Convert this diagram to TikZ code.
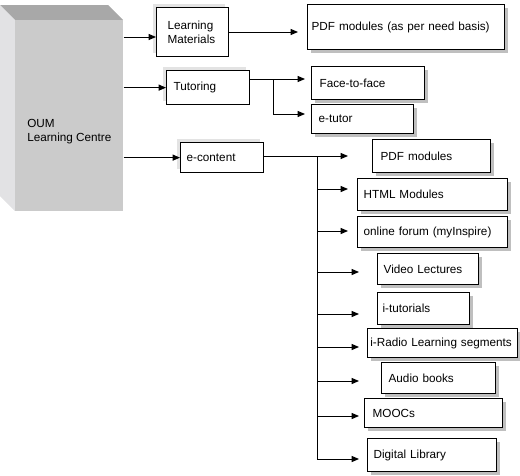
\documentclass[tikz,border=0pt]{standalone}
\usepackage{fontspec}
\setmainfont{Liberation Sans}
\usetikzlibrary{arrows.meta,shadows}
\definecolor{frontgray}{RGB}{203,203,203}
\definecolor{topgray}{RGB}{168,168,168}
\definecolor{sidegray}{RGB}{226,226,228}
\tikzset{
  boxbase/.style={draw, line width=0.95pt, fill=white, align=left, inner ysep=0pt,
    anchor=north west, font=\fontsize{8.8}{10.5}\selectfont},
  lbox/.style={boxbase, drop shadow={shadow xshift=-3pt, shadow yshift=3pt, fill=gray!22, opacity=1}},
  rbox/.style={boxbase, drop shadow={shadow xshift=2.2pt, shadow yshift=-2.2pt, fill=gray!50, opacity=1}},
  arr/.style={line width=0.75pt, -{Triangle[length=5.5pt,width=4.5pt]}},
  plain/.style={line width=0.75pt}
}
\begin{document}
\begin{tikzpicture}[x=0.75pt,y=-0.75pt]
\useasboundingbox (0,0) rectangle (520,475);
% 3D block
\fill[topgray] (0,5) -- (108,5) -- (123,20) -- (15,20) -- cycle;
\fill[sidegray] (0,5) -- (15,20) -- (15,211) -- (0,196) -- cycle;
\node[fill=frontgray, inner sep=0pt, anchor=north west, minimum width=81pt, minimum height=143.25pt] (oum) at (15,20) {};
\node[align=left, anchor=west, inner sep=0pt, font=\fontsize{8.8}{10.5}\selectfont] (oumtext) at (27,132) {OUM\\Learning Centre};
% first level
\node[lbox, text width=37.5pt, inner xsep=8.25pt, minimum height=36.75pt] (lm) at (156,7) {Learning\\Materials};
\node[lbox, text width=51.75pt, inner xsep=5.25pt, minimum height=25.5pt] (tut) at (166,70) {Tutoring};
\node[lbox, text width=53.25pt, inner xsep=4.5pt, minimum height=22.5pt] (ec) at (180,142) {e-content};
% second level
\node[rbox, text width=141.75pt, inner xsep=3pt, minimum height=33.75pt] (pdfneed) at (307,4) {PDF modules (as per need basis)};
\node[rbox, text width=72.75pt, inner xsep=6pt, minimum height=24.75pt] (f2f) at (311,66) {Face-to-face};
\node[rbox, text width=66pt, inner xsep=5.25pt, minimum height=21.75pt] (etutor) at (311,104) {e-tutor};
\node[rbox, text width=76.5pt, inner xsep=6pt, minimum height=24.75pt] (pdfm) at (372,139) {PDF modules};
\node[rbox, text width=103.5pt, inner xsep=4.5pt, minimum height=24pt] (html) at (357,178) {HTML Modules};
\node[rbox, text width=103.5pt, inner xsep=4.5pt, minimum height=23.25pt] (forum) at (357,216) {online forum (myInspire)};
\node[rbox, text width=66.75pt, inner xsep=4.5pt, minimum height=23.25pt] (video) at (377,253) {Video Lectures};
\node[rbox, text width=61.5pt, inner xsep=3.75pt, minimum height=24pt] (itut) at (377,292) {i-tutorials};
\node[rbox, text width=108.5pt, inner xsep=2pt, minimum height=21.75pt] (iradio) at (367,328) {i-Radio Learning segments};
\node[rbox, text width=75pt, inner xsep=5.25pt, minimum height=23.25pt] (audio) at (381,362) {Audio books};
\node[rbox, text width=91.5pt, inner xsep=6pt, minimum height=21.75pt] (moocs) at (364,398) {MOOCs};
\node[rbox, text width=87.75pt, inner xsep=4.5pt, minimum height=24.75pt] (digital) at (367,438) {Digital Library};
% helper coordinates
\coordinate (y1) at (0,37);
\coordinate (t0) at (298,32);
\coordinate (t1) at (305,79);
\coordinate (t2) at (305,114);
\coordinate (tb) at (273,0);
\coordinate (bus) at (317,0);
\coordinate (e1) at (348,156);
\coordinate (e2) at (348,189);
\coordinate (e3) at (348,231);
\coordinate (e4) at (359,272);
\coordinate (e5) at (359,314);
\coordinate (e6) at (359,347);
\coordinate (e7) at (359,381);
\coordinate (e8) at (359,416);
\coordinate (e9) at (359,459);
% connectors
\draw[arr] (oum.east |- y1) -- (lm.west |- y1);
\draw[arr] (oum.east |- tut.west) -- (tut.west);
\draw[arr] (oum.east |- ec.west) -- (ec.west);
\draw[arr] (lm.east |- t0) -- (t0);
\draw[arr] (tut.east |- t1) -- (t1);
\draw[arr] (tb |- t1) |- (t2);
\draw[plain] (ec.east |- e1) -- (bus |- e1);
\draw[plain] (bus |- e1) -- (bus |- e9);
\foreach \e in {e1,e2,e3,e4,e5,e6,e7,e8,e9}{
  \draw[arr] (bus |- \e) -- (\e);
}
\end{tikzpicture}
\end{document}
